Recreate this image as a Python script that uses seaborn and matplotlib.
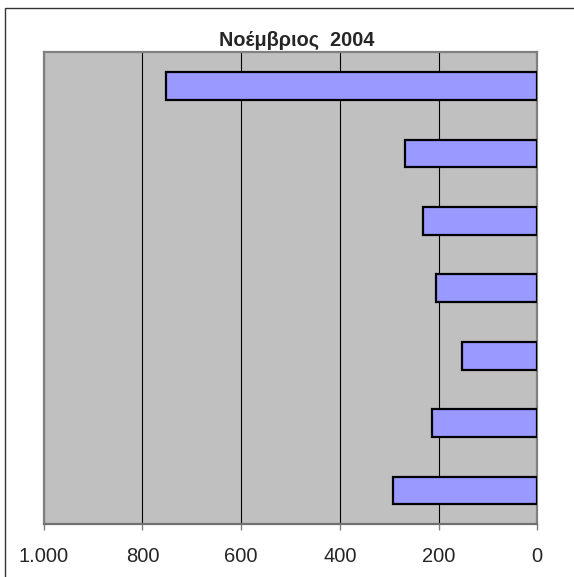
import matplotlib
matplotlib.use('Agg')
import matplotlib.pyplot as plt
import matplotlib.patches as patches
import seaborn as sns
import pandas as pd

title = 'Νοέμβριος  2004'
categories = ['1', '2', '3', '4', '5', '6', '7']
values = [752, 268, 231, 205, 152, 214, 292]
tick_values = [1000, 800, 600, 400, 200, 0]
tick_labels = ['1.000', '800', '600', '400', '200', '0']

sns.set_style('white')
plt.rcParams['font.family'] = ['Liberation Sans', 'DejaVu Sans']

W, H = 574, 577
fig = plt.figure(figsize=(W / 100, H / 100), dpi=100)
ax = fig.add_axes([43.7 / W, 1 - 524.3 / H, (537.3 - 43.7) / W, (524.3 - 52.3) / H])

data = pd.DataFrame({'cat': categories, 'val': values})
sns.barplot(data=data, x='val', y='cat', orient='h', color='#9999FF', saturation=1,
            edgecolor='black', linewidth=1.6, width=0.41, ax=ax, zorder=3)

ax.set_facecolor('#C0C0C0')
ax.set_xlim(1000, 0)
ax.set_ylim(len(categories) - 0.5, -0.5)
ax.set_xticks(tick_values)
ax.set_xticklabels(tick_labels, fontsize=14.5)
ax.set_yticks([])
ax.set_xlabel('')
ax.set_ylabel('')
ax.grid(axis='x', color='black', linewidth=0.8, zorder=0)
ax.set_axisbelow(True)
ax.tick_params(axis='x', direction='out', length=4, width=1, color='#808080', pad=12,
               bottom=True)
for s in ax.spines.values():
    s.set_color('#808080')
    s.set_linewidth(1.6)
ax.spines['bottom'].set_color('#707070')

fig.text(296.5 / W, 1 - 46 / H, title, fontsize=14.3, fontweight='bold',
         ha='center', va='baseline')

# outer chart border (only top and left edges fall inside the image)
fig.patches.append(patches.Rectangle((4.5 / W, -0.1), 1.2, (577 - 7.5) / H + 0.1,
                                     transform=fig.transFigure, fill=False,
                                     edgecolor='#333333', linewidth=1.0))

fig.savefig('out.png', dpi=100)
